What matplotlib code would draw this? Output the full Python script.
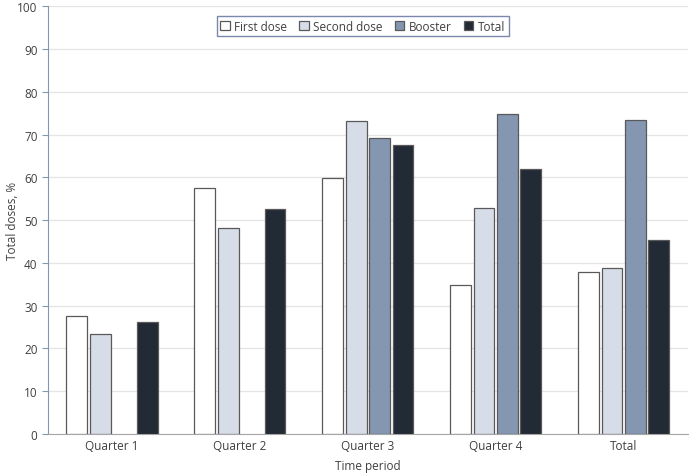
import matplotlib.pyplot as plt
import numpy as np

plt.rcParams['font.family'] = ['Open Sans', 'DejaVu Sans']

categories = ['Quarter 1', 'Quarter 2', 'Quarter 3', 'Quarter 4', 'Total']
series = ['First dose', 'Second dose', 'Booster', 'Total']
first_dose = [27.5, 57.5, 59.9, 34.9, 37.9]
second_dose = [23.4, 48.1, 73.1, 52.8, 38.9]
booster = [np.nan, np.nan, 69.1, 74.7, 73.3]
total = [26.2, 52.6, 67.6, 62.0, 45.3]
colors = ['#ffffff', '#d6dce8', '#8496b0', '#222a35']

fig = plt.figure(figsize=(6.9, 4.77), dpi=100)
ax = fig.add_axes([0.0696, 0.088, 0.927, 0.897])

x = np.arange(len(categories))
width = 0.163
step = 0.183
for i, (name, vals) in enumerate(zip(series, [first_dose, second_dose, booster, total])):
    ax.bar(x + (i - 1.5) * step, vals, width, color=colors[i], edgecolor='#595959',
           linewidth=0.9, label=name, zorder=3)

ax.set_xlim(-0.5, len(categories) - 0.5)
ax.set_ylim(0, 100)
ax.set_yticks(np.arange(0, 101, 10))
ax.set_xticks(x)
ax.set_xticklabels(categories)
ax.tick_params(axis='both', labelsize=8.5, colors='#404040', length=0)
ax.tick_params(axis='y', length=4, color='#8496b0', direction='out')
ax.grid(axis='y', color='#e4e4e4', linewidth=0.9, zorder=0)
for s in ['top', 'right']:
    ax.spines[s].set_visible(False)
ax.spines['left'].set_color('#8496b0')
ax.spines['bottom'].set_color('#a6a6a6')
ax.set_ylabel('Total doses, %', fontsize=8.5, color='#404040')
ax.yaxis.set_label_coords(-0.046, 0.5)
ax.set_xlabel('Time period', fontsize=8.5, color='#404040', labelpad=5)

leg = ax.legend(loc='upper center', bbox_to_anchor=(0.492, 0.99), ncol=4, fontsize=8.5,
                frameon=True, fancybox=False, handlelength=0.8, handleheight=0.8,
                handletextpad=0.4, columnspacing=1.0, borderpad=0.3)
leg.get_frame().set_edgecolor('#5a6a9a')
leg.get_frame().set_linewidth(1.0)
for t in leg.get_texts():
    t.set_color('#404040')

fig.savefig('out.png', dpi=100)
